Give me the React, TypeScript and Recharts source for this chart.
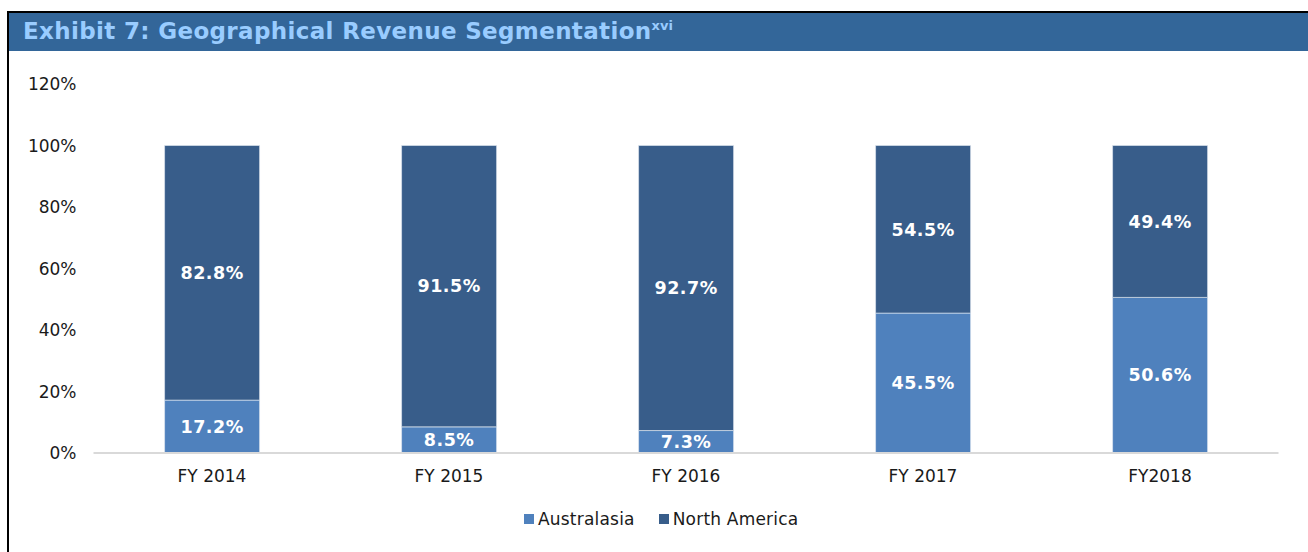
import React from 'react';
import { BarChart, Bar, XAxis, YAxis, Legend, LabelList } from 'recharts';

const categories = ['FY 2014', 'FY 2015', 'FY 2016', 'FY 2017', 'FY2018'];
const australasia = [17.2, 8.5, 7.3, 45.5, 50.6];
const northAmerica = [82.8, 91.5, 92.7, 54.5, 49.4];
const yTicks = [0, 20, 40, 60, 80, 100, 120];

const seriesNames = { aus: 'Australasia', na: 'North America' };
const colors = { aus: '#4f81bd', na: '#385d8a' };

const data = categories.map((c, i) => ({ name: c, aus: australasia[i], na: northAmerica[i] }));

const FONT = '"DejaVu Sans", Verdana, sans-serif';

const fmtPct = (v: any) => `${Number(v).toFixed(1)}%`;

const LegendContent = () => (
  <div style={{ display: 'flex', alignItems: 'center', fontFamily: FONT, fontSize: 17, color: '#1a1a1a', whiteSpace: 'nowrap' }}>
    {(['aus', 'na'] as const).map((k, i) => (
      <div key={k} style={{ display: 'flex', alignItems: 'center', marginLeft: i === 0 ? 0 : 24 }}>
        <span style={{ display: 'inline-block', width: 10, height: 10, background: colors[k], marginRight: 4 }} />
        <span style={{ letterSpacing: 0.2 }}>{seriesNames[k]}</span>
      </div>
    ))}
  </div>
);

export default function App() {
  return (
    <div style={{ position: 'absolute', left: 0, top: 0, width: 1308, height: 552, background: '#fff', fontFamily: FONT, overflow: 'hidden' }}>
      <div style={{ position: 'absolute', left: 7, top: 11, width: 1301, height: 2, background: '#000' }} />
      <div style={{ position: 'absolute', left: 7, top: 11, width: 2, height: 541, background: '#000' }} />
      <div style={{ position: 'absolute', left: 9, top: 13, width: 1299, height: 38, background: '#336699' }}>
        <div style={{ position: 'absolute', left: 14, top: 5, fontSize: 23, fontWeight: 'bold', color: '#99ccff', whiteSpace: 'nowrap', fontFamily: FONT, letterSpacing: 0.35, lineHeight: 'normal' }}>
          Exhibit 7: Geographical Revenue Segmentation
          <sup style={{ fontSize: 13, position: 'relative', top: 0, verticalAlign: 'top', letterSpacing: 0, marginLeft: 0 }}>xvi</sup>
        </div>
      </div>
      <div style={{ position: 'absolute', left: 0, top: 0 }}>
        <BarChart
          width={1308}
          height={552}
          data={data}
          margin={{ top: 84, right: 29.5, bottom: 69, left: 13.5 }}
          barCategoryGap="30%"
        >
          <XAxis
            dataKey="name"
            height={30}
            tickLine={false}
            tickSize={0}
            tickMargin={17}
            axisLine={{ stroke: '#d9d9d9', strokeWidth: 2 }}
            tick={{ fill: '#1a1a1a', fontSize: 17, fontFamily: FONT }}
          />
          <YAxis
            width={80}
            domain={[0, 120]}
            ticks={yTicks}
            axisLine={false}
            tickLine={false}
            tickSize={0}
            tickMargin={17}
            tickFormatter={(v: any) => `${v}%`}
            tick={{ fill: '#1a1a1a', fontSize: 17, fontFamily: FONT }}
          />
          <Legend
            verticalAlign="middle"
            layout="horizontal"
            content={<LegendContent />}
            wrapperStyle={{ left: 524, top: 509, width: 'auto', height: 20 }}
          />
          <Bar dataKey="aus" name={seriesNames.aus} stackId="s" fill={colors.aus} stroke="#e6ecf4" strokeWidth={0.6} isAnimationActive={false}>
            <LabelList dataKey="aus" position="center" formatter={fmtPct} fill="#ffffff" style={{ fontWeight: 'bold', fontSize: 17.5, fontFamily: FONT, letterSpacing: 0.5 }} />
          </Bar>
          <Bar dataKey="na" name={seriesNames.na} stackId="s" fill={colors.na} stroke="#e6ecf4" strokeWidth={0.6} isAnimationActive={false}>
            <LabelList dataKey="na" position="center" formatter={fmtPct} fill="#ffffff" style={{ fontWeight: 'bold', fontSize: 17.5, fontFamily: FONT, letterSpacing: 0.5 }} />
          </Bar>
        </BarChart>
      </div>
    </div>
  );
}
